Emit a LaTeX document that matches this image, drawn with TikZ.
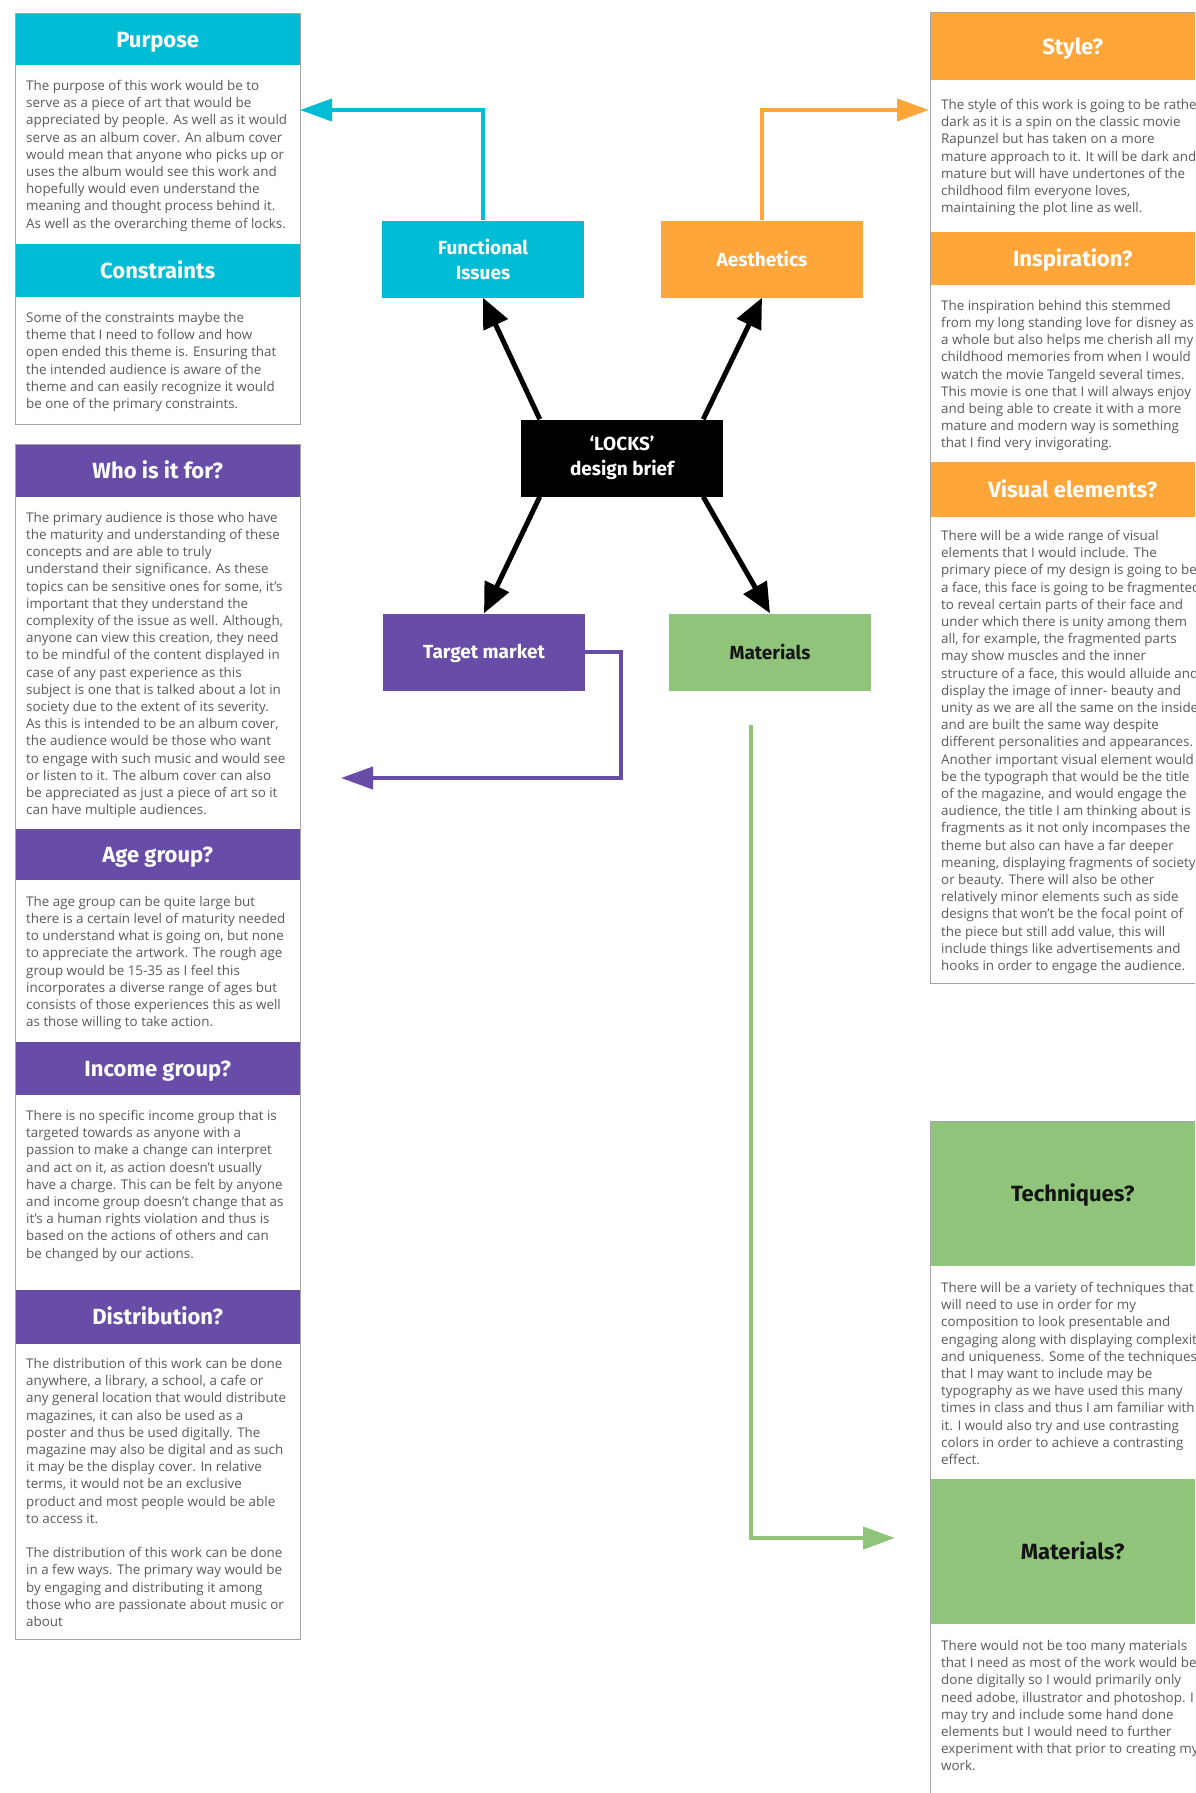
\documentclass[tikz,border=0pt]{standalone}
\usepackage{fontspec}
\setmainfont{Open Sans}
\newfontfamily\firafont{Fira Sans}
\usetikzlibrary{arrows.meta}
\definecolor{cyanc}{RGB}{0,188,212}
\definecolor{orangec}{RGB}{255,166,58}
\definecolor{purplec}{RGB}{103,76,168}
\definecolor{greenc}{RGB}{143,196,122}
\definecolor{bodyc}{RGB}{90,90,90}
\definecolor{framec}{RGB}{165,165,165}
\definecolor{darkc}{RGB}{20,20,20}
\begin{document}
\begin{tikzpicture}[x=1pt,y=-1pt,
  hdr/.style={anchor=north west, minimum width=285pt, inner sep=0pt, fill=#1,
    text height=15pt, text depth=0pt,
    font=\firafont\bfseries\fontsize{22}{26}\selectfont, text=white},
  body/.style={anchor=north west, inner sep=0pt, align=left, text=bodyc,
    font=\fontsize{13.4}{17.2}\selectfont},
  frame/.style={draw=framec, line width=1pt},
  cnode/.style={minimum width=202pt, minimum height=77pt, inner sep=0pt, align=center, fill=#1,
    font=\firafont\bfseries\fontsize{19}{25}\selectfont, text=white},
  blk/.style={line width=5pt, -{Triangle[length=30pt,width=26pt]}},
  conn/.style={line width=4pt, draw=#1, -{Triangle[length=32pt,width=22pt,fill=#1]}}
]
\clip (0,0) rectangle (1195,1793);
\fill[white] (0,0) rectangle (1195,1793);

% ---------- left column, box 1 ----------
\node[hdr=cyanc, minimum height=51pt] (hPurpose) at (15,14) {Purpose};
\node[body] (tPurpose) at (26,80) {The purpose of this work would be to\\
serve as a piece of art that would be\\
appreciated by people. As well as it would\\
serve as an album cover. An album cover\\
would mean that anyone who picks up or\\
uses the album would see this work and\\
hopefully would even understand the\\
meaning and thought process behind it.\\
As well as the overarching theme of locks.};
\node[hdr=cyanc, minimum height=53pt] (hConstraints) at (15,244) {Constraints};
\node[body] (tConstraints) at (26,312) {Some of the constraints maybe the\\
theme that I need to follow and how\\
open ended this theme is. Ensuring that\\
the intended audience is aware of the\\
theme and can easily recognize it would\\
be one of the primary constraints.};
\draw[frame] (15,14) rectangle (300,424);

% ---------- left column, box 2 ----------
\node[hdr=purplec, minimum height=53pt] (hWho) at (15,444) {Who is it for?};
\node[body] (tWho) at (26,512) {The primary audience is those who have\\
the maturity and understanding of these\\
concepts and are able to truly\\
understand their significance. As these\\
topics can be sensitive ones for some, it’s\\
important that they understand the\\
complexity of the issue as well. Although,\\
anyone can view this creation, they need\\
to be mindful of the content displayed in\\
case of any past experience as this\\
subject is one that is talked about a lot in\\
society due to the extent of its severity.\\
As this is intended to be an album cover,\\
the audience would be those who want\\
to engage with such music and would see\\
or listen to it. The album cover can also\\
be appreciated as just a piece of art so it\\
can have multiple audiences.};
\node[hdr=purplec, minimum height=51pt] (hAge) at (15,829) {Age group?};
\node[body] (tAge) at (26,896) {The age group can be quite large but\\
there is a certain level of maturity needed\\
to understand what is going on, but none\\
to appreciate the artwork. The rough age\\
group would be 15-35 as I feel this\\
incorporates a diverse range of ages but\\
consists of those experiences this as well\\
as those willing to take action.};
\node[hdr=purplec, minimum height=53pt] (hIncome) at (15,1042) {Income group?};
\node[body] (tIncome) at (26,1110) {There is no specific income group that is\\
targeted towards as anyone with a\\
passion to make a change can interpret\\
and act on it, as action doesn’t usually\\
have a charge. This can be felt by anyone\\
and income group doesn’t change that as\\
it’s a human rights violation and thus is\\
based on the actions of others and can\\
be changed by our actions.};
\node[hdr=purplec, minimum height=54pt] (hDist) at (15,1290) {Distribution?};
\node[body] (tDist) at (26,1358) {The distribution of this work can be done\\
anywhere, a library, a school, a cafe or\\
any general location that would distribute\\
magazines, it can also be used as a\\
poster and thus be used digitally. The\\
magazine may also be digital and as such\\
it may be the display cover. In relative\\
terms, it would not be an exclusive\\
product and most people would be able\\
to access it.\\[17.2pt]
The distribution of this work can be done\\
in a few ways. The primary way would be\\
by engaging and distributing it among\\
those who are passionate about music or\\
about};
\draw[frame] (15,444) rectangle (300,1639);

% ---------- right column, box 3 ----------
\node[hdr=orangec, minimum height=67pt] (hStyle) at (930,13) {Style?};
\node[body] (tStyle) at (941,99) {The style of this work is going to be rather\\
dark as it is a spin on the classic movie\\
Rapunzel but has taken on a more\\
mature approach to it. It will be dark and\\
mature but will have undertones of the\\
childhood film everyone loves,\\
maintaining the plot line as well.};
\node[hdr=orangec, minimum height=53pt] (hInsp) at (930,232) {Inspiration?};
\node[body] (tInsp) at (941,300) {The inspiration behind this stemmed\\
from my long standing love for disney as\\
a whole but also helps me cherish all my\\
childhood memories from when I would\\
watch the movie Tangeld several times.\\
This movie is one that I will always enjoy\\
and being able to create it with a more\\
mature and modern way is something\\
that I find very invigorating.};
\node[hdr=orangec, minimum height=55pt] (hVis) at (930,462) {Visual elements?};
\node[body] (tVis) at (941,530) {There will be a wide range of visual\\
elements that I would include. The\\
primary piece of my design is going to be\\
a face, this face is going to be fragmented\\
to reveal certain parts of their face and\\
under which there is unity among them\\
all, for example, the fragmented parts\\
may show muscles and the inner\\
structure of a face, this would alluide and\\
display the image of inner- beauty and\\
unity as we are all the same on the inside\\
and are built the same way despite\\
different personalities and appearances.\\
Another important visual element would\\
be the typograph that would be the title\\
of the magazine, and would engage the\\
audience, the title I am thinking about is\\
fragments as it not only incompases the\\
theme but also can have a far deeper\\
meaning, displaying fragments of society\\
or beauty. There will also be other\\
relatively minor elements such as side\\
designs that won’t be the focal point of\\
the piece but still add value, this will\\
include things like advertisements and\\
hooks in order to engage the audience.};
\draw[frame] (930,13) rectangle (1215,983);

% ---------- right column, box 4 ----------
\node[hdr=greenc, minimum height=145pt, text=darkc] (hTech) at (930,1121) {Techniques?};
\node[body] (tTech) at (941,1282) {There will be a variety of techniques that I\\
will need to use in order for my\\
composition to look presentable and\\
engaging along with displaying complexity\\
and uniqueness. Some of the techniques\\
that I may want to include may be\\
typography as we have used this many\\
times in class and thus I am familiar with\\
it. I would also try and use contrasting\\
colors in order to achieve a contrasting\\
effect.};
\node[hdr=greenc, minimum height=145pt, text=darkc] (hMat) at (930,1479) {Materials?};
\node[body] (tMat) at (941,1640) {There would not be too many materials\\
that I need as most of the work would be\\
done digitally so I would primarily only\\
need adobe, illustrator and photoshop. I\\
may try and include some hand done\\
elements but I would need to further\\
experiment with that prior to creating my\\
work.};
\draw[frame] (930,1121) rectangle (1215,1810);

% ---------- centre mind map ----------
\node[cnode=cyanc] (fi) at (483,259) {Functional\\Issues};
\node[cnode=orangec] (ae) at (762,259) {Aesthetics};
\node[cnode=black] (locks) at (622,458) {‘LOCKS’\\design brief};
\node[cnode=purplec, text height=13pt, text depth=0pt] (tm) at (484,652) {Target market};
\node[cnode=greenc, text=darkc] (mat) at (770,652) {Materials};

\draw[blk] ([xshift=19pt]locks.north west) -- (fi.south);
\draw[blk] ([xshift=-20pt]locks.north east) -- (ae.south);
\draw[blk] ([xshift=19pt]locks.south west) -- (tm.north);
\draw[blk] ([xshift=-20pt]locks.south east) -- (mat.north);

\coordinate (cyEnd) at (300,110);
\coordinate (orEnd) at (929,110);
\coordinate (puEnd) at (341,778);
\coordinate (grStart) at (751,725);
\coordinate (grEnd) at (895,1538);

\draw[conn=cyanc] (fi.north) |- (cyEnd);
\draw[conn=orangec] (ae.north) |- (orEnd);
\draw[conn=purplec] (tm.east) -- ++(36,0) |- (puEnd);
\draw[conn=greenc] (grStart) |- (grEnd);
\end{tikzpicture}
\end{document}
